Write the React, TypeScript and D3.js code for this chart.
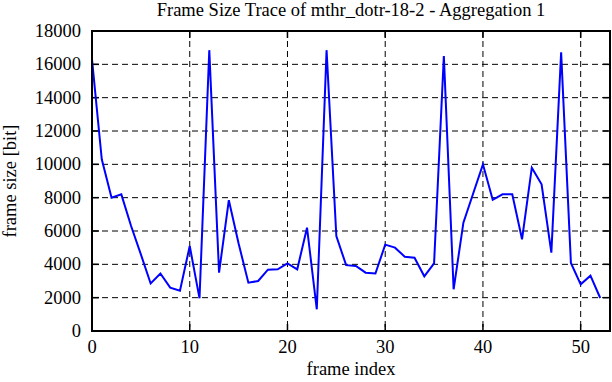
import * as d3 from "d3";
import React, { useRef, useEffect } from "react";

// frame sizes [bit], index 0..52
const frameSizes = [
  16300, 10300, 8000, 8200, 6300, 4600, 2850, 3450, 2600, 2420,
  5100, 1960, 16850, 3500, 7850, 5250, 2900, 3000, 3680, 3700,
  4050, 3700, 6200, 1300, 16850, 5700, 3950, 3900, 3500, 3450,
  5180, 5000, 4460, 4400, 3280, 4060, 16500, 2500, 6500, 8250,
  10000, 7870, 8200, 8200, 5500, 9800, 8800, 4700, 16720, 4080,
  2800, 3320, 1980,
];
const xTicks = [0, 10, 20, 30, 40, 50];
const yTicks = [0, 2000, 4000, 6000, 8000, 10000, 12000, 14000, 16000, 18000];

const W = 612;
const H = 382;
const margin = { left: 92, right: 2, top: 31, bottom: 51 };

export default function App() {
  const svgRef = useRef<SVGSVGElement>(null);

  useEffect(() => {
    const svg = d3.select(svgRef.current);
    svg.selectAll("*").remove();

    const x = d3.scaleLinear().domain([0, 53]).range([margin.left, W - margin.right]);
    const y = d3.scaleLinear().domain([0, 18000]).range([H - margin.bottom, margin.top]);
    const font = "'Liberation Serif', 'DejaVu Serif', serif";

    // grid
    const grid = svg.append("g").attr("stroke", "#000").attr("stroke-width", 1).attr("stroke-dasharray", "6,4");
    grid.selectAll("line.gx")
      .data(xTicks.filter((t) => t > 0))
      .enter().append("line")
      .attr("x1", (d) => x(d)).attr("x2", (d) => x(d))
      .attr("y1", y(18000)).attr("y2", y(0));
    grid.selectAll("line.gy")
      .data(yTicks.filter((t) => t > 0 && t < 18000))
      .enter().append("line")
      .attr("x1", x(0)).attr("x2", x(53))
      .attr("y1", (d) => y(d)).attr("y2", (d) => y(d));

    // ticks (inward, mirrored)
    const ticks = svg.append("g").attr("stroke", "#000").attr("stroke-width", 1.5);
    xTicks.forEach((t) => {
      ticks.append("line").attr("x1", x(t)).attr("x2", x(t)).attr("y1", y(0)).attr("y2", y(0) - 7);
      ticks.append("line").attr("x1", x(t)).attr("x2", x(t)).attr("y1", y(18000)).attr("y2", y(18000) + 7);
    });
    yTicks.forEach((t) => {
      ticks.append("line").attr("x1", x(0)).attr("x2", x(0) + 7).attr("y1", y(t)).attr("y2", y(t));
      ticks.append("line").attr("x1", x(53)).attr("x2", x(53) - 7).attr("y1", y(t)).attr("y2", y(t));
    });

    // data line
    const line = d3.line<number>().x((d, i) => x(i)).y((d) => y(d));
    svg.append("path")
      .datum(frameSizes)
      .attr("fill", "none")
      .attr("stroke", "#0000ff")
      .attr("stroke-width", 2)
      .attr("stroke-linejoin", "miter")
      .attr("d", line);

    // frame
    svg.append("rect")
      .attr("x", x(0)).attr("y", y(18000))
      .attr("width", x(53) - x(0)).attr("height", y(0) - y(18000))
      .attr("fill", "none").attr("stroke", "#000").attr("stroke-width", 2);

    // tick labels
    svg.append("g").selectAll("text")
      .data(yTicks).enter().append("text")
      .attr("x", x(0) - 11).attr("y", (d) => y(d) + 6)
      .attr("text-anchor", "end")
      .attr("font-family", font).attr("font-size", 18.5)
      .text((d) => d);
    svg.append("g").selectAll("text")
      .data(xTicks).enter().append("text")
      .attr("x", (d) => x(d)).attr("y", y(0) + 22)
      .attr("text-anchor", "middle")
      .attr("font-family", font).attr("font-size", 18.5)
      .text((d) => d);

    // titles
    svg.append("text")
      .attr("x", 351).attr("y", 16)
      .attr("text-anchor", "middle")
      .attr("font-family", font).attr("font-size", 18.5)
      .text("Frame Size Trace of mthr_dotr-18-2 - Aggregation 1");
    svg.append("text")
      .attr("x", 351).attr("y", 375)
      .attr("text-anchor", "middle")
      .attr("font-family", font).attr("font-size", 18.5)
      .text("frame index");
    svg.append("text")
      .attr("transform", `translate(16,${(y(0) + y(18000)) / 2}) rotate(-90)`)
      .attr("text-anchor", "middle")
      .attr("font-family", font).attr("font-size", 18.5)
      .text("frame size [bit]");
  }, []);

  return (
    <svg
      ref={svgRef}
      width={W}
      height={H}
      style={{ position: "absolute", left: 0, top: 0, background: "#fff" }}
    />
  );
}
